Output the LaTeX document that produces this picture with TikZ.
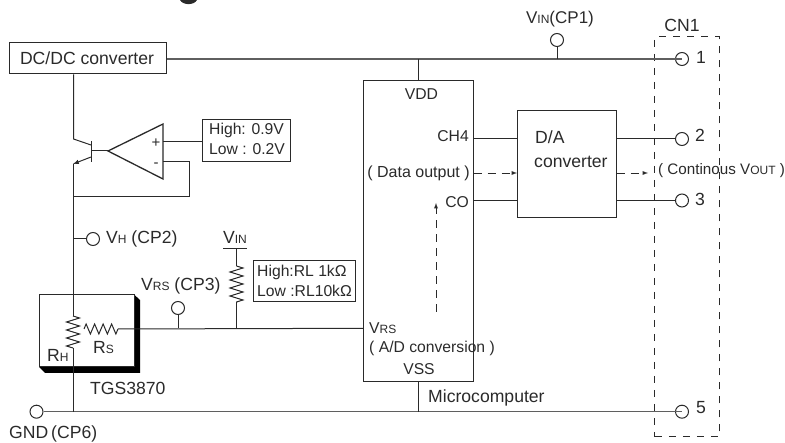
\documentclass[tikz,border=0pt]{standalone}
\usepackage{fontspec}
\setmainfont{Liberation Sans}
\usepackage{tikz}
\usetikzlibrary{arrows,decorations.pathmorphing}
\definecolor{ink}{HTML}{2A2A2A}
\newcommand{\lw}[1]{{\fontsize{12}{14}\selectfont #1}}
\tikzset{
	wire/.style={draw=ink,line width=1pt},
	rail/.style={draw=ink!75,line width=1.4pt},
	flow/.style={draw=ink,line width=0.9pt,dash pattern=on 8pt off 6pt},
	box/.style={draw=ink,line width=1pt,inner sep=0pt},
	term/.style={draw=ink,shape=circle,line width=1pt,inner sep=0pt,minimum size=13pt},
	lab/.style={inner sep=0pt,text=ink},
	inner/.style={lab,font=\fontsize{15.7}{18}\selectfont},
	res/.style={wire,decorate,decoration={zigzag,segment length=8pt,amplitude=6.5pt}}
}
\begin{document}
\begin{tikzpicture}[x=1pt,y=-1pt,font=\fontsize{17.6}{20}\selectfont]
	\useasboundingbox (0,0) rectangle (785,443);
	\fill[ink] (180,0) .. controls (183,5.5) and (194,5.5) .. (197,0) -- cycle;

	\node[box,minimum width=157pt,minimum height=31pt] (dcdc) at (88,58.5) {};
	\node[lab] at (87,58) {DC/DC converter};
	\node[box,minimum width=110.5pt,minimum height=301pt] (mcu) at (418.5,231) {};
	\node[box,minimum width=99.5pt,minimum height=106.5pt] (da) at (567,164.2) {};
	\node[draw=ink,line width=0.9pt,dash pattern=on 7pt off 7pt,inner sep=0pt,minimum width=64.5pt,minimum height=400pt] (cn) at (687,236.8) {};
	\node[box,minimum width=88.5pt,minimum height=42pt] (hilo) at (246.7,141) {};
	\node[box,minimum width=102pt,minimum height=41pt] (rl) at (304.5,281.5) {};

	\node[term] (p1) at (682,59) {};
	\node[term] (p2) at (682,139) {};
	\node[term] (p3) at (682,200.5) {};
	\node[term] (p5) at (682,411.7) {};
	\node[term] (cp1) at (557,40) {};
	\node[term] (cp2) at (93,239) {};
	\node[term] (cp3) at (178,308) {};
	\node[term] (cp6) at (36.5,411.7) {};

	\coordinate (vddtop) at (418.5,59);
	\coordinate (vssbot) at (418.5,411.7);
	\coordinate (cp1foot) at (557,59);
	\coordinate (col) at (73.5,139);
	\coordinate (colb) at (91,145);
	\coordinate (emib) at (91,157);
	\coordinate (emi) at (73,164);
	\coordinate (base) at (91.5,151);
	\coordinate (tip) at (108,151);
	\coordinate (plus) at (163,142);
	\coordinate (minus) at (163,162);
	\coordinate (fbr) at (189,162);
	\coordinate (fbb) at (189,197);
	\coordinate (fbl) at (73,197);
	\coordinate (vhnode) at (73,239);
	\coordinate (rhtop) at (73,316);
	\coordinate (rhbot) at (73,348);
	\coordinate (rsl) at (84,329);
	\coordinate (rsr) at (118,329);
	\coordinate (vrsnode) at (178,328.3);
	\coordinate (rlnode) at (236.5,328.3);
	\coordinate (vrsin) at (363.3,328.3);
	\coordinate (vinbar) at (236.5,248.5);
	\coordinate (barl) at (223,248.5);
	\coordinate (barr) at (247,248.5);
	\coordinate (rltop) at (236.5,266);
	\coordinate (rlbot) at (236.5,303);
	\coordinate (gndrh) at (73,411.7);

	\draw[rail] (dcdc.east |- p1) -- (p1.center);
	\draw[rail] (cp6) -- (p5.center);
	\draw[wire] (cp1) -- (cp1foot);
	\draw[wire] (vddtop) -- (mcu.north -| vddtop);
	\draw[wire] (mcu.south -| vssbot) -- (vssbot);

	\draw[wire] (mcu.east |- p2) -- (da.west |- p2);
	\draw[wire] (mcu.east |- p3) -- (da.west |- p3);
	\draw[wire] (da.east |- p2) -- (p2);
	\draw[wire] (da.east |- p3) -- (p3);
	\draw[flow,-latex] (473.7,173) -- (517,173);
	\draw[flow,-latex] (616.7,173) -- (648,173);
	\draw[flow,-latex] (436,311.7) -- (436,203);

	\draw[wire] (dcdc.south -| col) -- (col) -- (colb);
	\draw[wire,-latex] (emib) -- (emi);
	\draw[wire,line width=1.2pt] (91.5,141) -- (91.5,162);
	\draw[wire] (base) -- (tip);
	\draw[draw=ink,line width=1.3pt] (tip) -- (163,124) -- (163,179) -- cycle;
	\draw[wire] (plus) -- (hilo.west |- plus);
	\draw[wire] (minus) -- (fbr) -- (fbb) -- (fbl);
	\draw[wire] (vhnode) -- (cp2);

	\fill[black] (134,294.5) -- (140,300) -- (140,373) -- (45,373) -- (39,367) -- (134,367) -- cycle;
	\node[box,fill=white,minimum width=95pt,minimum height=72.5pt] (sensor) at (86.5,330.7) {};
	\draw[wire] (emi) -- (rhtop);
	\draw[res] (rhtop) -- (rhbot);
	\draw[wire] (rhbot) -- (gndrh);
	\draw[wire,decorate,decoration={zigzag,segment length=8.5pt,amplitude=5pt}] (rsl) -- (rsr);
	\draw[wire] (rsr) -- (vrsin);
	\draw[wire] (cp3) -- (vrsnode);
	\draw[wire] (rlbot) -- (rlnode);
	\draw[res] (rltop) -- (rlbot);
	\draw[wire] (vinbar) -- (rltop);
	\draw[wire] (barl) -- (barr);

	\node[lab,font=\fontsize{17}{20}\selectfont] at (560,19) {V\lw{IN}(CP1)};
	\node[lab] at (682,25) {CN1};
	\node[lab] at (701,57) {1};
	\node[lab] at (700,135) {2};
	\node[lab] at (700,199) {3};
	\node[lab] at (701,408) {5};
	\node[inner] at (421.5,94) {VDD};
	\node[inner,anchor=east] at (469,136) {CH4};
	\node[inner,font=\fontsize{16}{18}\selectfont] at (418.5,173) {( Data output )};
	\node[inner,anchor=east] at (469,202) {CO};
	\node[lab,anchor=west] at (535,137) {D/A};
	\node[lab,anchor=west] at (534,162) {converter};
	\node[inner,anchor=west,font=\fontsize{15.2}{18}\selectfont] at (658,171) {( Continous V\lw{OUT} )};
	\node[inner,anchor=west] at (369,328) {V\lw{RS}};
	\node[inner,anchor=west] at (369,348) {( A/D conversion )};
	\node[inner] at (419,369.5) {VSS};
	\node[lab,anchor=west] at (428,398) {Microcomputer};
	\node[lab,anchor=west] at (9,434) {GND\,(CP6)};
	\node[lab,anchor=west] at (90,388) {TGS3870};
	\node[lab,anchor=west] at (106,239) {V\lw{H} (CP2)};
	\node[lab] at (235,237) {V\lw{IN}};
	\node[lab,anchor=west] at (141,286) {V\lw{RS} (CP3)};
	\node[lab,anchor=west] at (93,348) {R\lw{S}};
	\node[lab,anchor=west] at (47,355) {R\lw{H}};
	\node[inner,anchor=west] at (209,130) {High: 0.9V};
	\node[inner,anchor=west] at (209,149) {Low : 0.2V};
	\node[inner,anchor=west] at (257,272) {High:RL 1kΩ};
	\node[inner,anchor=west] at (257,291) {Low :RL10kΩ};
	\node[lab,font=\fontsize{15}{16}\selectfont] at (156,143) {+};
	\node[lab,font=\fontsize{15}{16}\selectfont] at (156,165) {-};
\end{tikzpicture}
\end{document}
